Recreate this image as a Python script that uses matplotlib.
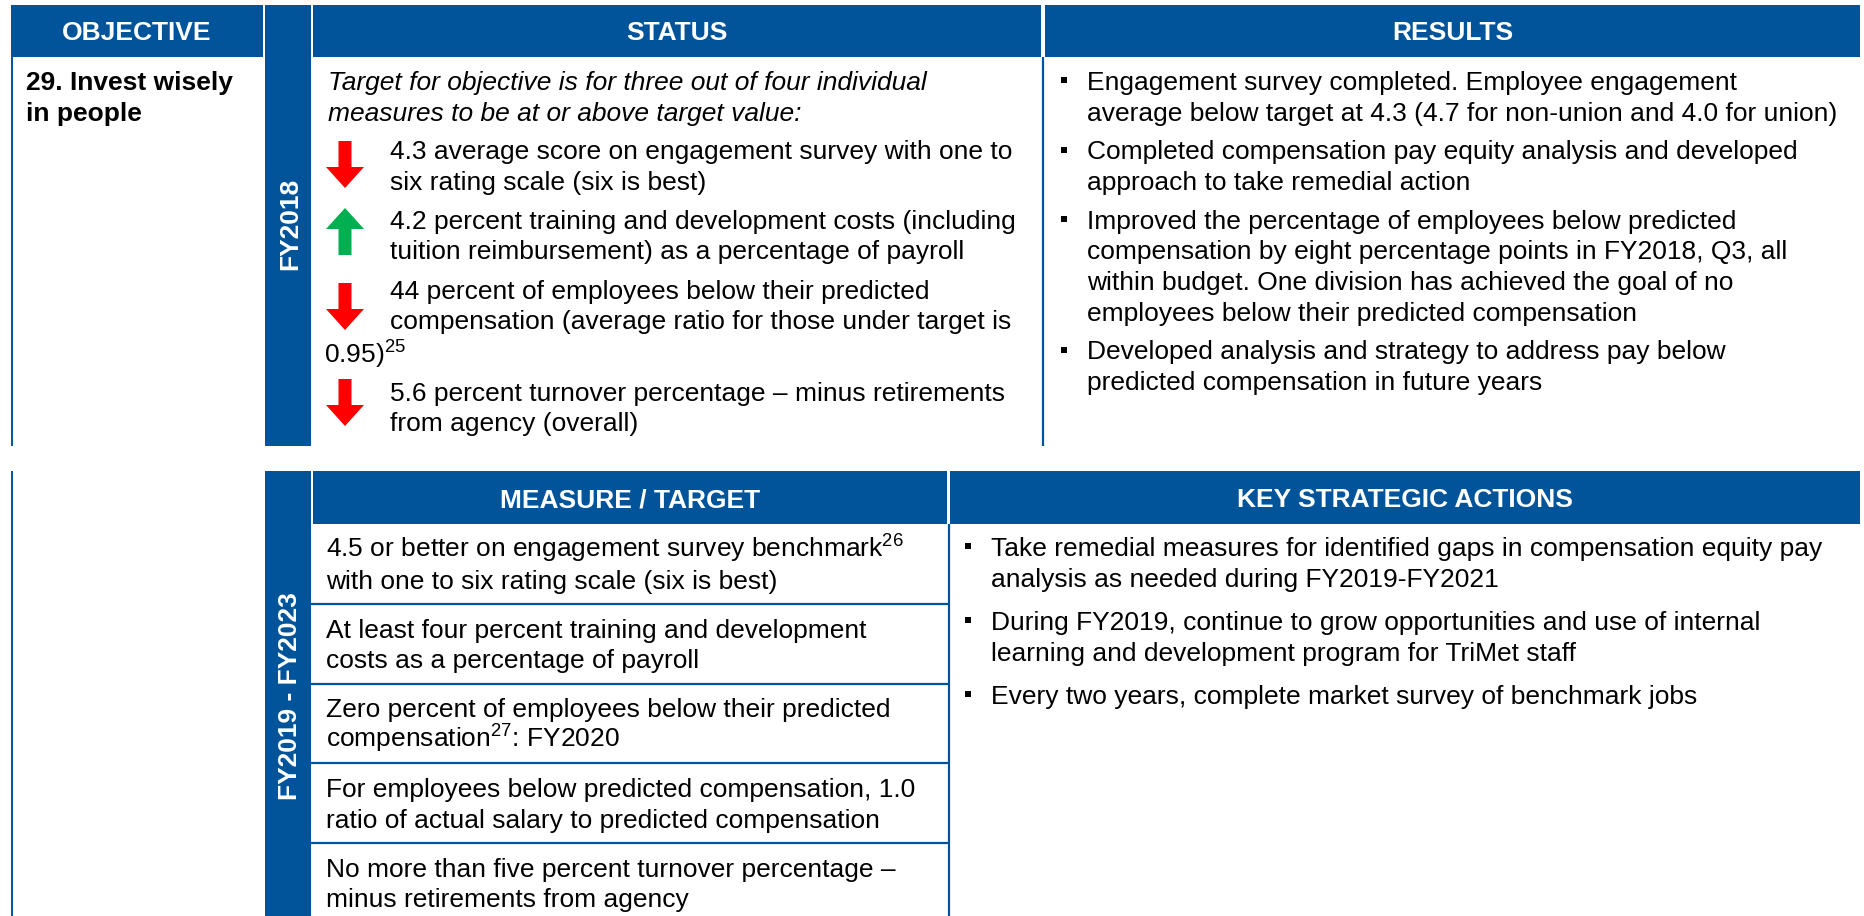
import matplotlib.pyplot as plt
from matplotlib.patches import Rectangle, Polygon

plt.rcParams['font.family'] = ['Liberation Sans', 'DejaVu Sans']
plt.rcParams['mathtext.fontset'] = 'custom'
plt.rcParams['mathtext.rm'] = 'Liberation Sans'
plt.rcParams['mathtext.it'] = 'Liberation Sans:italic'
plt.rcParams['mathtext.bf'] = 'Liberation Sans:bold'

# --- contenu du tableau ---
top_headers = ["OBJECTIVE", "STATUS", "RESULTS"]
bottom_headers = ["MEASURE / TARGET", "KEY STRATEGIC ACTIONS"]
period_labels = ["FY2018", "FY2019 - FY2023"]

objective = ["29. Invest wisely", "in people"]

status_intro = ["Target for objective is for three out of four individual",
                "measures to be at or above target value:"]
status_items = [
    ["4.3 average score on engagement survey with one to",
     "six rating scale (six is best)"],
    ["4.2 percent training and development costs (including",
     "tuition reimbursement) as a percentage of payroll"],
    ["44 percent of employees below their predicted",
     "compensation (average ratio for those under target is",
     "0.95)$^{25}$"],
    ["5.6 percent turnover percentage \u2013 minus retirements",
     "from agency (overall)"],
]
status_trend = ["down", "up", "down", "down"]

results = [
    ["Engagement survey completed. Employee engagement",
     "average below target at 4.3 (4.7 for non-union and 4.0 for union)"],
    ["Completed compensation pay equity analysis and developed",
     "approach to take remedial action"],
    ["Improved the percentage of employees below predicted",
     "compensation by eight percentage points in FY2018, Q3, all",
     "within budget. One division has achieved the goal of no",
     "employees below their predicted compensation"],
    ["Developed analysis and strategy to address pay below",
     "predicted compensation in future years"],
]

measures = [
    ["4.5 or better on engagement survey benchmark$^{26}$",
     "with one to six rating scale (six is best)"],
    ["At least four percent training and development",
     "costs as a percentage of payroll"],
    ["Zero percent of employees below their predicted",
     "compensation$^{27}$: FY2020"],
    ["For employees below predicted compensation, 1.0",
     "ratio of actual salary to predicted compensation"],
    ["No more than five percent turnover percentage \u2013",
     "minus retirements from agency"],
]

actions = [
    ["Take remedial measures for identified gaps in compensation equity pay",
     "analysis as needed during FY2019-FY2021"],
    ["During FY2019, continue to grow opportunities and use of internal",
     "learning and development program for TriMet staff"],
    ["Every two years, complete market survey of benchmark jobs"],
]

# --- mise en page (pixels) ---
W, H = 1865, 916
BLUE = '#02549A'
FS = 19
LS = 30.5          # interligne
CAP = 19           # hauteur des capitales
trend_color = {"down": "#FF0000", "up": "#00B050"}

fig = plt.figure(figsize=(W / 100, H / 100), dpi=100)
ax = fig.add_axes([0, 0, 1, 1])
ax.set_xlim(0, W)
ax.set_ylim(H, 0)
ax.axis('off')


def box(x0, x1, y0, y1, color=BLUE):
    ax.add_patch(Rectangle((x0, y0), x1 - x0, y1 - y0, facecolor=color,
                           edgecolor='none'))


def header(x0, x1, y0, y1, label):
    box(x0, x1, y0, y1)
    ax.text((x0 + x1) / 2, (y0 + y1) / 2 + CAP / 2, label, color='white',
            fontsize=FS, fontweight='bold', ha='center', va='baseline')


def lines_at(x, y, lines, **kw):
    for i, s in enumerate(lines):
        ax.text(x, y + i * LS, s, fontsize=FS, ha='left', va='baseline',
                color='black', **kw)


def arrow(cx, top, direction, color):
    L, hl, hw, sw = 47, 21, 38, 13
    if direction == "down":
        pts = [(cx - sw / 2, top), (cx + sw / 2, top), (cx + sw / 2, top + L - hl),
               (cx + hw / 2, top + L - hl), (cx, top + L), (cx - hw / 2, top + L - hl),
               (cx - sw / 2, top + L - hl)]
    else:
        pts = [(cx - sw / 2, top + L), (cx + sw / 2, top + L), (cx + sw / 2, top + hl),
               (cx + hw / 2, top + hl), (cx, top), (cx - hw / 2, top + hl),
               (cx - sw / 2, top + hl)]
    ax.add_patch(Polygon(pts, closed=True, facecolor=color, edgecolor='none'))


def bullet(x, y):
    ax.plot([x], [y - 10], marker='s', markersize=4.3, color='black',
            markeredgewidth=0)


# ---- section haute ----
top_y0, top_y1, sec1_bottom = 5, 57, 446
cols_top = [(11, 263), (313, 1041), (1045, 1860)]
for (x0, x1), lab in zip(cols_top, top_headers):
    header(x0, x1, top_y0, top_y1, lab)

# bandes verticales des périodes
box(265, 311, top_y0, sec1_bottom)
ax.text(297, (top_y0 + sec1_bottom) / 2 - 2, period_labels[0], color='white',
        fontsize=FS, fontweight='bold', rotation=90, rotation_mode='anchor',
        ha='center', va='baseline')

# traits verticaux
ax.plot([12, 12], [top_y1, sec1_bottom], color=BLUE, lw=1.4, solid_capstyle='butt')
ax.plot([1043, 1043], [top_y1, sec1_bottom], color=BLUE, lw=1.6, solid_capstyle='butt')

# objectif
lines_at(26, 90, objective, fontweight='bold')

# statut
lines_at(328, 90, status_intro, fontstyle='italic')
arrow_top = [141, 208, 283, 379]
y = 90 + (len(status_intro) - 1) * LS + 39
for item, trend, atop in zip(status_items, status_trend, arrow_top):
    arrow(345, atop, trend, trend_color[trend])
    for i, s in enumerate(item):
        yy = y + i * LS
        x = 390 if (yy - CAP) < atop + 47 else 324
        ax.text(x, yy + (4 if x == 324 else 0), s, fontsize=FS, ha='left',
                va='baseline', color='black')
    y += (len(item) - 1) * LS + 39 + (2 if len(item) > 2 else 0)

# résultats
y = 90
for item in results:
    bullet(1064, y)
    lines_at(1087, y, item)
    y += (len(item) - 1) * LS + 39

# ---- section basse ----
bot_y0, bot_y1 = 471, 524
header(313, 947, bot_y0, bot_y1, bottom_headers[0])
header(950, 1860, bot_y0, bot_y1, bottom_headers[1])
box(265, 311, bot_y0, H)
ax.text(297, (bot_y0 + H) / 2 + 3, period_labels[1], color='white',
        fontsize=FS, fontweight='bold', rotation=90, rotation_mode='anchor',
        ha='center', va='baseline')

ax.plot([12, 12], [bot_y0, H], color=BLUE, lw=1.4, solid_capstyle='butt')
ax.plot([948.5, 948.5], [bot_y1, H], color=BLUE, lw=1.6, solid_capstyle='butt')

row_h = (843 - bot_y1) / 4
for i, item in enumerate(measures):
    top = bot_y1 + i * row_h
    if i > 0:
        ax.plot([311, 948.5], [top, top], color=BLUE, lw=1.6, solid_capstyle='butt')
    lines_at(326, top + 34, item)

y = 556
for item in actions:
    bullet(968, y)
    lines_at(991, y, item)
    y += (len(item) - 1) * 29 + 45
    
fig.savefig('out.png', dpi=100)
